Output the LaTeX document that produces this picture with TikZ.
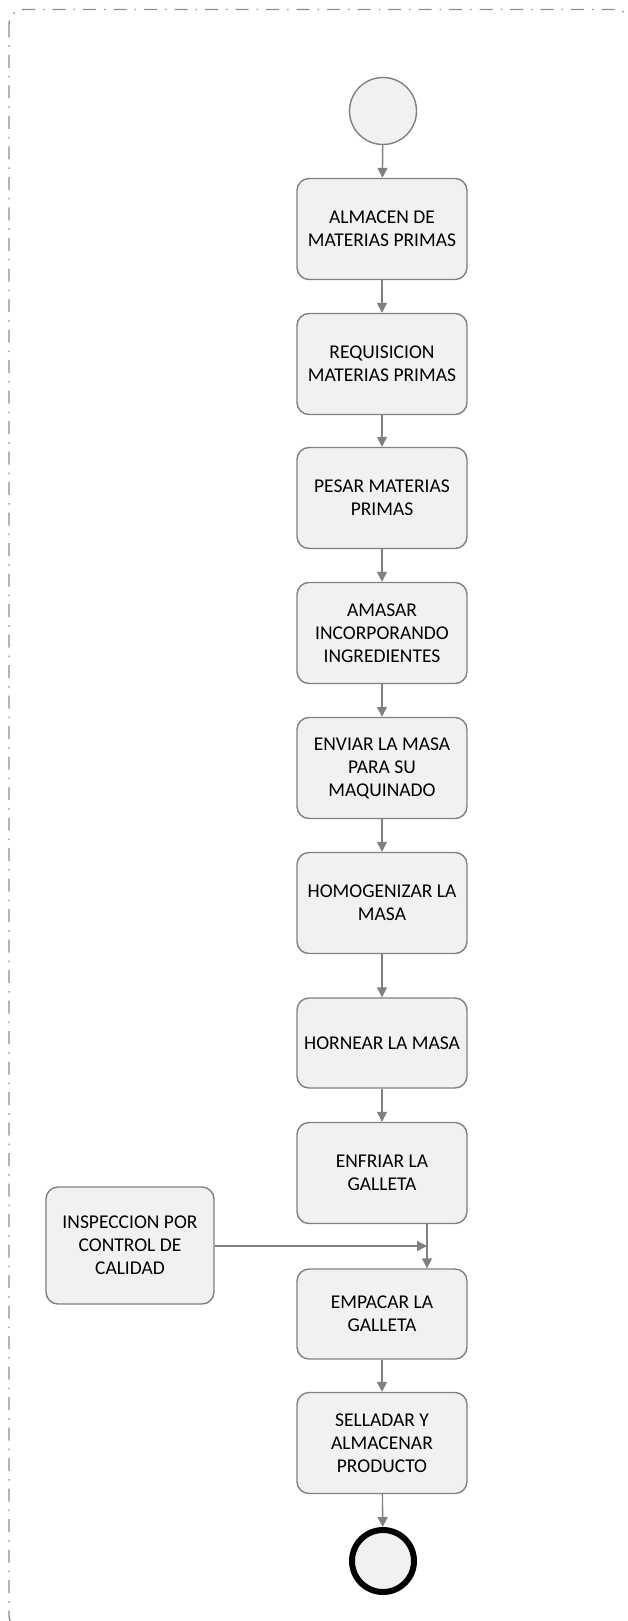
\documentclass[tikz,border=0pt]{standalone}
\usepackage{fontspec}
\setmainfont{Carlito}
\usetikzlibrary{arrows.meta}
\definecolor{linegray}{HTML}{808080}
\definecolor{boxfill}{HTML}{F1F1F1}
\definecolor{framegray}{HTML}{8C8C8C}

\begin{document}
\begin{tikzpicture}[x=1pt, y=-1pt,
    actbox/.style={draw=linegray, line width=1.4pt, fill=boxfill, rounded corners=12pt,
        minimum width=170pt, minimum height=101pt, inner sep=0pt, align=center,
        text=black, font=\fontsize{19.5}{23}\selectfont},
    startnode/.style={circle, draw=linegray, line width=1.4pt, fill=boxfill,
        minimum size=67pt, inner sep=0pt},
    endnode/.style={circle, draw=black, line width=6pt, fill=boxfill,
        minimum size=62pt, inner sep=0pt},
    flow/.style={draw=linegray, line width=1.4pt, -{Triangle[length=10pt, width=10pt]}},
    frame/.style={draw=framegray, line width=1.3pt, rounded corners=15pt,
        dash pattern=on 13pt off 8pt on 1.5pt off 8pt}]
\useasboundingbox (0,0) rectangle (628,1621);

% Frame
\begin{scope}
    \clip (0,0) rectangle (628,1621);
    \draw[frame] (9,9.5) rectangle (630,1630);
\end{scope}

% Start and activities
\node[startnode] (inicio) at (383,111) {};
\node[actbox] (almacen) at (382,229) {ALMACEN DE\\MATERIAS PRIMAS};
\node[actbox] (requisicion) at (382,364) {REQUISICION\\MATERIAS PRIMAS};
\node[actbox] (pesar) at (382,498) {PESAR MATERIAS\\PRIMAS};
\node[actbox] (amasar) at (382,633) {AMASAR\\INCORPORANDO\\INGREDIENTES};
\node[actbox] (enviar) at (382,768) {ENVIAR LA MASA\\PARA SU\\MAQUINADO};
\node[actbox] (homogenizar) at (382,903) {HOMOGENIZAR LA\\MASA};
\node[actbox, minimum height=90pt] (hornear) at (382,1043) {HORNEAR LA MASA};
\node[actbox] (enfriar) at (382,1173) {ENFRIAR LA\\GALLETA};
\node[actbox, minimum width=168pt, minimum height=117pt] (inspeccion) at (130,1245.5)
    {INSPECCION POR\\CONTROL DE\\CALIDAD};
\node[actbox, minimum height=90pt] (empacar) at (382,1314) {EMPACAR LA\\GALLETA};
\node[actbox] (sellar) at (382,1443) {SELLADAR Y\\ALMACENAR\\PRODUCTO};
\node[endnode] (fin) at (383,1561) {};

% Flow
\draw[flow] (inicio) -- (almacen);
\draw[flow] (almacen) -- (requisicion);
\draw[flow] (requisicion) -- (pesar);
\draw[flow] (pesar) -- (amasar);
\draw[flow] (amasar) -- (enviar);
\draw[flow] (enviar) -- (homogenizar);
\draw[flow] (homogenizar) -- (hornear);
\draw[flow] (hornear) -- (enfriar);
\draw[flow] (empacar) -- (sellar);
\draw[flow] (sellar) -- (fin);

% Inspection joins the line into packing
\coordinate (union) at (427,1246);
\draw[flow] (enfriar.south -| union) -- (empacar.north -| union);
\draw[flow] (inspeccion.east |- union) -- (union);
\end{tikzpicture}
\end{document}
